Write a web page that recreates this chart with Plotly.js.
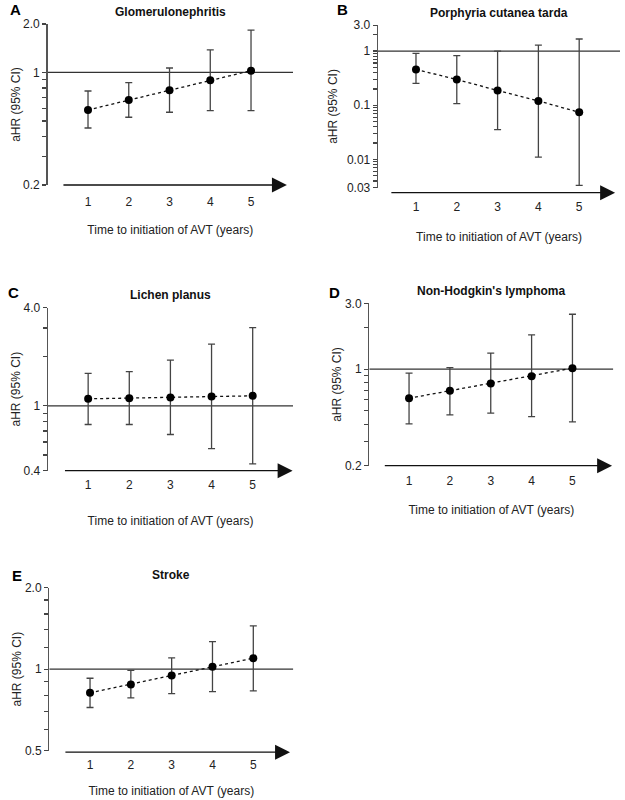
<!DOCTYPE html>
<html>
<head>
<meta charset="utf-8">
<script src="https://cdn.plot.ly/plotly-3.0.1.min.js"></script>
<style>html,body{margin:0;padding:0;background:#fff;}#chart{width:625px;height:800px;}</style>
</head>
<body>
<div id="chart"></div>
<script>
// ---- data ----
const years = [1, 2, 3, 4, 5];
const refHR = 1;

const titleA = 'Glomerulonephritis';
const hrA = [0.585, 0.675, 0.775, 0.894, 1.026];
const loA = [0.452, 0.527, 0.566, 0.579, 0.579];
const hiA = [0.767, 0.865, 1.066, 1.38, 1.83];
const yTickValsA = [0.2, 1, 2];
const yTickTextA = ['0.2', '1', '2.0'];
const yMinorA = [0.3, 0.4, 0.5, 0.6, 0.7, 0.8, 0.9];

const titleB = 'Porphyria cutanea tarda';
const hrB = [0.457, 0.299, 0.187, 0.120, 0.074];
const loB = [0.252, 0.107, 0.0355, 0.011, 0.0033];
const hiB = [0.906, 0.82, 1.0, 1.29, 1.67];
const yTickValsB = [0.003, 0.01, 0.1, 1, 3];
const yTickTextB = ['0.03', '0.01', '0.1', '1', '3.0'];
const yMinorB = [0.004, 0.005, 0.006, 0.007, 0.008, 0.009,
                 0.02, 0.03, 0.04, 0.05, 0.06, 0.07, 0.08, 0.09,
                 0.2, 0.3, 0.4, 0.5, 0.6, 0.7, 0.8, 0.9, 2];

const titleC = 'Lichen planus';
const hrC = [1.104, 1.114, 1.125, 1.14, 1.152];
const loC = [0.768, 0.768, 0.667, 0.547, 0.441];
const hiC = [1.58, 1.62, 1.91, 2.39, 3.02];
const yTickValsC = [0.4, 1, 4];
const yTickTextC = ['0.4', '1', '4.0'];
const yMinorC = [0.5, 0.6, 0.7, 0.8, 0.9, 2, 3];

const titleD = "Non-Hodgkin's lymphoma";
const hrD = [0.616, 0.697, 0.787, 0.89, 1.017];
const loD = [0.402, 0.467, 0.48, 0.454, 0.415];
const hiD = [0.935, 1.028, 1.306, 1.77, 2.5];
const yTickValsD = [0.2, 1, 3];
const yTickTextD = ['0.2', '1', '3.0'];
const yMinorD = [0.3, 0.4, 0.5, 0.6, 0.7, 0.8, 0.9, 2];

const titleE = 'Stroke';
const hrE = [0.818, 0.878, 0.948, 1.02, 1.098];
const loE = [0.722, 0.784, 0.813, 0.827, 0.832];
const hiE = [0.926, 0.99, 1.101, 1.265, 1.446];
const yTickValsE = [0.5, 1, 2];
const yTickTextE = ['0.5', '1', '2.0'];
const yMinorE = [0.6, 0.7, 0.8, 0.9, 1.2, 1.4, 1.6, 1.8];

const xTitle = 'Time to initiation of AVT (years)';
const yTitle = 'aHR (95% CI)';

// ---- layout geometry (pixels) ----
const W = 625, H = 800;
const panels = [
  {letter:'A', title:titleA, hr:hrA, lo:loA, hi:hiA, tv:yTickValsA, tt:yTickTextA, minor:yMinorA,
   px:[47.5, 293], py:[24, 185], xr:[0.006, 6.03], ylo:0.2, yhi:2.0, arrow:[0.36, 5.88], arrowDy:0,
   tickLen:6, xStand:17, yStand:0, letterPos:[8, 10]},
  {letter:'B', title:titleB, hr:hrB, lo:loB, hi:hiB, tv:yTickValsB, tt:yTickTextB, minor:yMinorB,
   px:[378, 620], py:[25.2, 187.7], xr:[0.069, 6.0], ylo:0.003, yhi:3.0, arrow:[0.36, 5.88], arrowDy:5,
   tickLen:8, xStand:19, yStand:6, letterPos:[335, 9.5]},
  {letter:'C', title:titleC, hr:hrC, lo:loC, hi:hiC, tv:yTickValsC, tt:yTickTextC, minor:yMinorC,
   px:[48, 293], py:[307.7, 470.7], xr:[0.024, 5.98], ylo:0.4, yhi:4.0, arrow:[0.4, 5.97], arrowDy:0,
   tickLen:3, xStand:25, yStand:0, letterPos:[6, 292.7]},
  {letter:'D', title:titleD, hr:hrD, lo:loD, hi:hiD, tv:yTickValsD, tt:yTickTextD, minor:yMinorD,
   px:[369.3, 613.3], py:[303.3, 465.7], xr:[0.027, 6.0], ylo:0.2, yhi:3.0, arrow:[0.37, 5.97], arrowDy:0,
   tickLen:4, xStand:18, yStand:0, letterPos:[327, 292.7]},
  {letter:'E', title:titleE, hr:hrE, lo:loE, hi:hiE, tv:yTickValsE, tt:yTickTextE, minor:yMinorE,
   px:[49.3, 293.3], py:[587.7, 750.7], xr:[0.002, 5.98], ylo:0.5, yhi:2.0, arrow:[0.36, 5.9], arrowDy:1.5,
   tickLen:3, xStand:15, yStand:0, letterPos:[10, 575.5]}
];

const FONT = 'Arial, "Liberation Sans", Helvetica, sans-serif';
const traces = [];
const layout = {
  width: W, height: H,
  margin: {l:0, r:0, t:0, b:0},
  paper_bgcolor: '#fff', plot_bgcolor: 'rgba(0,0,0,0)',
  showlegend: false,
  font: {family: FONT, size: 12, color: '#222'},
  annotations: []
};

panels.forEach((p, i) => {
  const n = i === 0 ? '' : String(i + 1);
  const xa = 'x' + n, ya = 'y' + n;

  // reference line at HR = 1 (spans the full axis range)
  traces.push({
    type: 'scatter', mode: 'lines',
    x: p.xr, y: [refHR, refHR], xaxis: xa, yaxis: ya,
    line: {color: '#333', width: 1.2}, hoverinfo: 'skip', cliponaxis: false
  });
  // estimates with 95% CI
  traces.push({
    type: 'scatter', mode: 'lines+markers',
    x: years, y: p.hr, xaxis: xa, yaxis: ya,
    line: {color: '#111', width: 1.3, dash: 'dot'},
    marker: {color: '#000', size: 8},
    error_y: {
      type: 'data', symmetric: false,
      array: p.hi.map((v, k) => v - p.hr[k]),
      arrayminus: p.lo.map((v, k) => p.hr[k] - v),
      color: '#444', thickness: 1.3, width: 3.5
    },
    cliponaxis: false,
    hoverinfo: 'x+y'
  });

  const xd = [p.px[0] / W, p.px[1] / W];
  const yd = [1 - p.py[1] / H, 1 - p.py[0] / H];
  const yr = [Math.log10(p.ylo), Math.log10(p.yhi)];
  layout['xaxis' + n] = {
    domain: xd, anchor: ya, range: p.xr,
    showline: false, zeroline: false, showgrid: false,
    tickmode: 'array', tickvals: years, ticktext: years.map(String),
    ticks: 'outside', ticklen: p.tickLen, tickcolor: 'rgba(0,0,0,0)',
    tickfont: {size: 12, color: '#222'},
    title: {text: xTitle, font: {size: 12, color: '#222'}, standoff: p.xStand},
    fixedrange: true
  };
  layout['yaxis' + n] = {
    domain: yd, anchor: xa, type: 'log', range: yr,
    showline: true, linecolor: '#555', linewidth: 1.3,
    zeroline: false, showgrid: false,
    tickmode: 'array',
    tickvals: p.tv.concat(p.minor),
    ticktext: p.tt.concat(p.minor.map(() => '')),
    ticks: 'outside', ticklen: 4, tickcolor: '#444', tickwidth: 1.2,
    tickfont: {size: 12, color: '#222'},
    title: {text: yTitle, font: {size: 12, color: '#222'}, standoff: p.yStand},
    fixedrange: true
  };
  // time arrow along the bottom
  layout.annotations.push({
    xref: xa, yref: ya + ' domain', axref: xa, ayref: 'pixel',
    x: p.arrow[1], y: 0, ax: p.arrow[0], ay: 0, yshift: -p.arrowDy,
    text: '', showarrow: true, arrowhead: 2, arrowsize: 2.3, arrowwidth: 1.3,
    arrowcolor: '#111', standoff: 0, startstandoff: 0
  });
  // subplot title
  layout.annotations.push({
    xref: 'paper', yref: 'paper',
    x: (xd[0] + xd[1]) / 2, y: 1 - (p.py[0] - 12.5) / H,
    xanchor: 'center', yanchor: 'middle', showarrow: false,
    text: '<b>' + p.title + '</b>', font: {size: 12, color: '#111'}
  });
  // panel letter
  layout.annotations.push({
    xref: 'paper', yref: 'paper',
    x: p.letterPos[0] / W, y: 1 - p.letterPos[1] / H,
    xanchor: 'left', yanchor: 'middle', showarrow: false,
    text: '<b>' + p.letter + '</b>', font: {size: 15, color: '#000'}
  });
});

Plotly.newPlot('chart', traces, layout, {staticPlot: true, displayModeBar: false});
</script>
</body>
</html>
